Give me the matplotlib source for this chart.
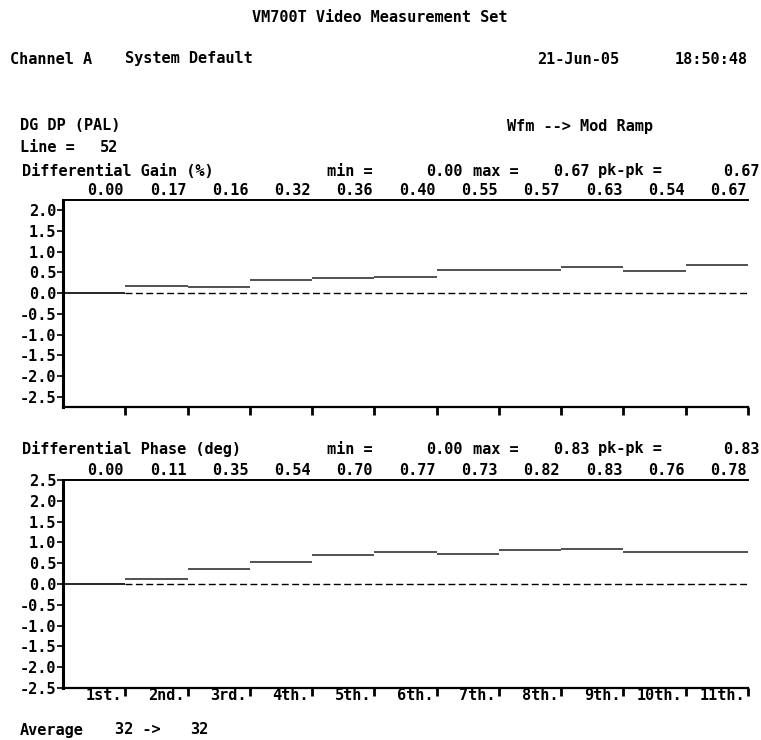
import matplotlib
matplotlib.use("Agg")
import matplotlib.pyplot as plt
from matplotlib.transforms import blended_transform_factory

# measured values per step of the modulated ramp
steps = ["1st.", "2nd.", "3rd.", "4th.", "5th.", "6th.", "7th.", "8th.", "9th.", "10th.", "11th."]
dg_vals = [0.00, 0.17, 0.16, 0.32, 0.36, 0.40, 0.55, 0.57, 0.63, 0.54, 0.67]
dp_vals = [0.00, 0.11, 0.35, 0.54, 0.70, 0.77, 0.73, 0.82, 0.83, 0.76, 0.78]
dg_ticks = [2.0, 1.5, 1.0, 0.5, 0.0, -0.5, -1.0, -1.5, -2.0, -2.5]
dp_ticks = [2.5, 2.0, 1.5, 1.0, 0.5, 0.0, -0.5, -1.0, -1.5, -2.0, -2.5]

W, H = 761, 740
FONT = dict(family="DejaVu Sans Mono", weight="bold", size=11, color="black")

fig = plt.figure(figsize=(W / 100, H / 100), dpi=100)


def px(x, y):
    return x / W, 1 - y / H


def put(x, y, s, ha="left"):
    fig.text(*px(x, y), s, ha=ha, va="center", **FONT)


def panel(top, bot, vals, ticks, ylim, title, title_y, show_labels):
    x0, y0 = px(63, bot)
    x1, y1 = px(748, top)
    ax = fig.add_axes([x0, y0, x1 - x0, y1 - y0])
    n = len(vals)
    ax.set_xlim(0, n)
    ax.set_ylim(*ylim)
    ax.plot([1, n], [0, 0], color="black", lw=1, dashes=(5, 2.5))
    for i, v in enumerate(vals):
        ax.hlines(v, i, i + 1, color="black" if v == 0 else "#333333", lw=1.2)
    ax.spines["right"].set_visible(False)
    ax.spines["left"].set_linewidth(2.2)
    ax.spines["top"].set_linewidth(1.4)
    ax.spines["bottom"].set_linewidth(1.6)
    ax.set_yticks(ticks)
    ax.set_yticklabels(["%.1f" % t for t in ticks], **FONT)
    ax.tick_params(axis="y", direction="out", length=4, width=1.2, pad=1)
    ax.set_xticks(range(1, n + 1))
    ax.set_xticklabels([])
    ax.tick_params(axis="x", direction="out", length=6, width=2)
    tr = blended_transform_factory(ax.transData, ax.transAxes)
    if show_labels:
        for i, s in enumerate(steps):
            ax.text(i + 1 - 0.05, -0.035, s, transform=tr, ha="right", va="center", **FONT)
    # value row above the frame
    for i, v in enumerate(vals):
        ax.text(i + 1 - 0.02, 1.01, "%.2f" % v, transform=tr, ha="right", va="bottom", **FONT)
    # summary row
    lo, hi = min(vals), max(vals)
    put(22, title_y, title)
    put(327, title_y, "min =")
    put(463, title_y, "%.2f" % lo, ha="right")
    put(473, title_y, "max =")
    put(590, title_y, "%.2f" % hi, ha="right")
    put(598, title_y, "pk-pk =")
    put(760, title_y, "%.2f" % (hi - lo), ha="right")
    return ax


put(380, 17, "VM700T Video Measurement Set", ha="center")
put(10, 59, "Channel A")
put(125, 59, "System Default")
put(537, 59, "21-Jun-05")
put(748, 59, "18:50:48", ha="right")
put(20, 126, "DG DP (PAL)")
put(20, 147, "Line =")
put(100, 147, "52")
put(507, 127, "Wfm --> Mod Ramp")

panel(200, 407, dg_vals, dg_ticks, (-2.75, 2.25), "Differential Gain (%)", 171, False)
panel(480, 688, dp_vals, dp_ticks, (-2.5, 2.5), "Differential Phase (deg)", 449, True)

put(20, 730, "Average")
put(115, 730, "32 ->")
put(190, 730, "32")

fig.savefig("out.png", dpi=100)
